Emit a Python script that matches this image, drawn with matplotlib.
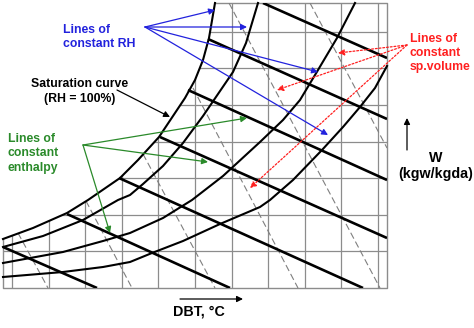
import matplotlib.pyplot as plt
from matplotlib.patches import Polygon

plt.rcParams['font.family'] = ['Liberation Sans', 'DejaVu Sans']

# chart units: one unit per pixel, origin at the lower left corner of the frame
X_MAX, Y_MAX = 384, 285

# DBT / W grid lines
dbt_grid = [9, 45.5, 82, 118.5, 155, 192, 228.5, 265, 301.5, 338, 374.5]
w_grid = [36.6, 73.2, 109.8, 146.4, 183, 219.6, 256.2]

# saturation curve (RH = 100%)
sat_x = [0, 30, 64, 85, 117, 135, 156, 170, 182, 192, 200, 206, 212]
sat_w = [49, 60, 75, 88, 110, 128, 151, 172, 190, 208, 228, 250, 285]

# lower RH curves
rh80_x = [0, 40, 80, 115, 127, 140, 160, 180, 200, 215, 230, 243, 255]
rh80_w = [41, 52, 68, 88, 93, 104, 122, 145, 172, 194, 216, 245, 285]

rh50_x = [0, 60, 100, 127, 160, 189, 220, 257, 280, 297, 315, 334, 352]
rh50_w = [25, 36, 47, 55, 70, 88, 112, 146, 168, 188, 218, 250, 285]

rh20_x = [0, 60, 100, 127, 149, 180, 217, 257, 267, 290, 319, 340, 357, 372, 384]
rh20_w = [11, 16, 21, 26, 35, 47, 64, 81, 88, 108, 138, 161, 181, 200, 222]

# constant enthalpy lines (start, end)
enthalpy_lines = [
    ((260, 285), (384, 230)),
    ((205, 249), (384, 169)),
    ((185, 198), (384, 108)),
    ((157, 151), (384, 50)),
    ((116, 110), (360, 0)),
    ((64, 74), (227, 0)),
    ((0, 41), (94, 0)),
]

# constant specific volume lines (start, end)
volume_lines = [
    ((15, 55), (45, 0)),
    ((83, 87), (129, 0)),
    ((140, 134), (212, 0)),
    ((190, 200), (295, 0)),
    ((226, 285), (377, 0)),
    ((307, 285), (384, 140)),
]

# label callouts
rh_origin = (142, 261)
rh_tips = [(212, 278), (244, 261), (315, 216), (325, 153)]
h_origin = (80, 143)
h_tips = [(244, 170), (205, 126), (107, 55)]
v_origin = (404, 243)
v_tips = [(335, 235), (274, 198), (247, 100)]

BLUE = '#2222dd'
GREEN = '#2a8a2a'
RED = '#ff1f1f'
GRID = '#8c8c8c'

fig = plt.figure(figsize=(4.74, 3.28), dpi=100, facecolor='white')
ax = fig.add_axes([3 / 474, 40 / 328, 384 / 474, 285 / 328])
ax.set_xlim(0, X_MAX)
ax.set_ylim(0, Y_MAX)
ax.axis('off')

# region under the saturation curve
clip = Polygon(list(zip(sat_x, sat_w)) + [(X_MAX, Y_MAX), (X_MAX, 0), (0, 0)],
               closed=True, transform=ax.transData)

vl = ax.vlines(dbt_grid, 0, Y_MAX, colors=GRID, lw=0.9, zorder=1)
hl = ax.hlines(w_grid, 0, X_MAX, colors=GRID, lw=0.9, zorder=1)
vl.set_clip_path(clip)
hl.set_clip_path(clip)

# frame
ax.plot([0, 0, X_MAX, X_MAX, sat_x[-1]], [sat_w[0], 0, 0, Y_MAX, Y_MAX],
        color=GRID, lw=1.0, clip_on=False, zorder=1)

for (x0, y0), (x1, y1) in volume_lines:
    ln, = ax.plot([x0, x1], [y0, y1], color='#7f7f7f', lw=0.8,
                  linestyle=(0, (6, 3)), zorder=2)
    ln.set_clip_path(clip)

for xs, ws in [(sat_x, sat_w), (rh80_x, rh80_w), (rh50_x, rh50_w), (rh20_x, rh20_w)]:
    ax.plot(xs, ws, color='black', lw=1.5, zorder=3, clip_on=False,
            solid_joinstyle='round')

for (x0, y0), (x1, y1) in enthalpy_lines:
    ax.plot([x0, x1], [y0, y1], color='black', lw=1.9, zorder=3,
            solid_capstyle='butt')


def arrow(tip, origin, color, ls='-'):
    ax.annotate('', xy=tip, xytext=origin, annotation_clip=False,
                arrowprops=dict(arrowstyle='-|>', color=color, lw=0.9, ls=ls,
                                shrinkA=0, shrinkB=0, mutation_scale=9),
                zorder=4)


for t in rh_tips:
    arrow(t, rh_origin, BLUE)
for t in h_tips:
    arrow(t, h_origin, GREEN)
for t in v_tips:
    arrow(t, v_origin, RED, ls=(0, (1.5, 1.5)))
arrow((167, 171), (114, 198), 'black')

# axis direction arrows
arrow((404, 170), (404, 138), 'black')
arrow((240, -11), (177, -11), 'black')

font = dict(fontsize=8.8, fontweight='bold', linespacing=1.25)
big = dict(fontsize=10.3, fontweight='bold', linespacing=1.1)
ax.text(60, 251, 'Lines of\nconstant RH', color=BLUE, ha='left', va='center', **font)
ax.text(77, 196.5, 'Saturation curve\n(RH = 100%)', color='black', ha='center',
        va='center', multialignment='center', **font)
ax.text(5, 134.5, 'Lines of\nconstant\nenthalpy', color=GREEN, ha='left', va='center', **font)
ax.text(407, 235, 'Lines of\nconstant\nsp.volume', color=RED, ha='left', va='center', **font)
ax.text(433, 122, 'W\n(kgw/kgda)', color='black', ha='center', va='center',
        multialignment='center', **big)
ax.text(196, -23, 'DBT, °C', color='black', ha='center', va='center', **big)

fig.savefig('out.png', dpi=100, facecolor='white')
